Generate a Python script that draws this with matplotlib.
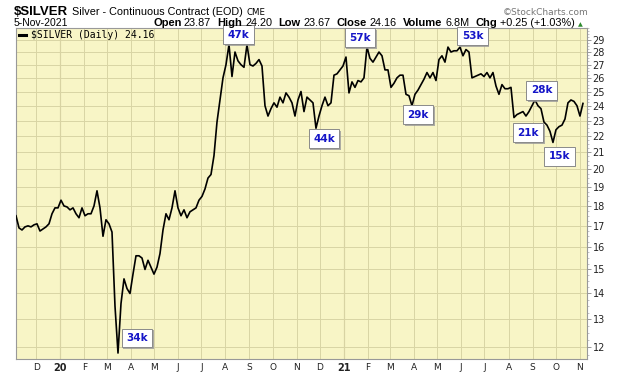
import pandas as pd
import matplotlib
matplotlib.use("Agg")
import matplotlib.pyplot as plt
from matplotlib import patheffects as pe
from matplotlib.ticker import FixedLocator, FixedFormatter, NullFormatter

# fechamentos aproximados de $SILVER, um ponto a cada ~3.9 dias (5-Nov-2019 a 5-Nov-2021)
precos_a = [17.5, 16.9, 16.8, 16.95, 17.0, 16.95, 17.05, 17.1, 16.75, 16.85,
            16.95, 17.1, 17.6, 17.9, 17.9, 18.3, 18.0, 17.95, 17.8, 17.9,
            17.6, 17.4, 17.9, 17.5, 17.6, 17.6, 18.0, 18.8, 17.9, 16.5,
            17.3, 17.1, 16.7, 13.5, 11.8, 13.6, 14.6, 14.2, 14.0, 14.8,
            15.6, 15.6, 15.5, 15.0, 15.4, 15.1, 14.8, 15.1, 15.7]
precos_b = [16.8, 17.6, 17.3, 17.9, 18.8, 17.9, 17.5, 17.8, 17.4, 17.7,
            17.8, 17.9, 18.3, 18.5, 18.9, 19.5, 19.7, 20.8, 22.9, 24.4,
            26.0, 27.0, 28.6, 26.1, 28.0, 27.3, 27.0, 26.8, 28.6, 27.0,
            26.9, 27.1, 27.4, 26.9, 24.0, 23.3, 23.8, 24.2, 23.9, 24.6,
            24.2, 24.9, 24.6, 24.2, 23.3, 24.4, 25.0, 23.6]
precos_c = [24.6, 24.4, 24.2, 22.5, 23.3, 24.0, 24.6, 24.0, 24.2, 26.2,
            26.3, 26.6, 26.9, 27.6, 24.9, 25.7, 25.3, 25.8, 25.7, 26.0,
            28.4, 27.5, 27.2, 27.6, 28.0, 27.7, 26.6, 26.6, 25.3, 25.6,
            26.0, 26.2, 26.2, 24.8, 24.7, 24.0, 24.8, 25.1, 25.5, 25.9,
            26.4, 26.0, 26.4, 25.8, 27.4, 27.7, 27.2, 28.4]
precos_d = [28.0, 28.1, 28.1, 28.4, 27.7, 28.2, 28.0, 26.0, 26.1, 26.2,
            26.3, 26.1, 26.4, 26.0, 26.4, 25.4, 24.8, 25.5, 25.2, 25.2,
            25.3, 23.2, 23.4, 23.5, 23.6, 23.3, 23.6, 24.0, 24.4, 24.0,
            23.8, 22.9, 22.7, 22.3, 21.6, 22.4, 22.6, 22.7, 23.1, 24.2,
            24.4, 24.3, 24.0, 23.3, 24.16]
precos = precos_a + precos_b + precos_c + precos_d
datas = pd.date_range("2019-11-05", "2021-11-05", periods=len(precos))

niveis = list(range(12, 30))
meses = pd.date_range("2019-12-01", "2021-11-01", freq="MS")
rotulos_meses = ["D", "20", "F", "M", "A", "M", "J", "J", "A", "S", "O", "N",
                 "D", "21", "F", "M", "A", "M", "J", "J", "A", "S", "O", "N"]

# caixas de volume nos pivôs (índice do ponto, texto)
piv_idx = [34, 71, 100, 117, 132, 148, 166, 173, 179]
piv_txt = ["34k", "47k", "44k", "57k", "29k", "53k", "21k", "28k", "15k"]
desloc = [(19, -15), (9.5, -10), (8, 10.5), (-7, -9.5), (6, 9),
          (12.5, -11), (14, 15), (6.5, -9.5), (6.5, 14)]  # em pixels

# linha de cotação do cabeçalho
cot_rotulos = ["Open", "High", "Low", "Close", "Volume", "Chg"]
cot_valores = ["23.87", "24.20", "23.67", "24.16", "6.8M", "+0.25 (+1.03%)"]

W, H = 620, 376
fig = plt.figure(figsize=(W / 100, H / 100), dpi=100)
fig.patch.set_facecolor("white")
ax = fig.add_axes([16 / W, (H - 359) / H, 571 / W, 331 / H])
ax.set_facecolor("#F8F5C6")

ax.plot(datas, precos, color="black", lw=1.2, label=r"\$SILVER (Daily) 24.16", zorder=3)
ax.set_yscale("log")
ax.set_ylim(11.6, 30.0)
ax.set_xlim(datas[0], datas[-1] + pd.Timedelta(days=5.2))

ax.yaxis.tick_right()
ax.yaxis.set_major_locator(FixedLocator(niveis))
ax.yaxis.set_major_formatter(FixedFormatter([str(v) for v in niveis]))
ax.yaxis.set_minor_locator(FixedLocator([v / 4 for v in range(46, 121)]))
ax.yaxis.set_minor_formatter(NullFormatter())
ax.tick_params(axis="y", which="major", length=3, width=0.6, color="#888888",
               pad=1, labelsize=7, labelcolor="#222222")
ax.tick_params(axis="y", which="minor", length=1.5, width=0.5, color="#aaaaaa")

ax.set_xticks(meses)
ax.set_xticklabels(rotulos_meses)
ax.tick_params(axis="x", length=0, pad=3, labelsize=6.5, labelcolor="#222222")
for lbl in ax.get_xticklabels():
    if lbl.get_text().isdigit():
        lbl.set_fontweight("bold")
        lbl.set_fontsize(7)

ax.grid(True, which="major", color="#D9D4A4", lw=0.7, zorder=0)
for m in meses:
    if m.month == 1:
        ax.axvline(m, color="#BDB88E", lw=0.8, zorder=1)
for s in ax.spines.values():
    s.set_color("#999999")
    s.set_linewidth(0.8)

leg = ax.legend(loc="upper left", bbox_to_anchor=(3 / 571, 1 - 2 / 331),
                frameon=False, handlelength=0.7, handletextpad=0.5,
                borderpad=0, borderaxespad=0,
                prop={"family": "DejaVu Sans Mono", "size": 7})
for h in leg.get_lines():
    h.set_linewidth(2.2)

for i, txt, (dx, dy) in zip(piv_idx, piv_txt, desloc):
    a = ax.annotate(txt, xy=(datas[i], precos[i]), xytext=(dx * 0.72, -dy * 0.72),
                    textcoords="offset points", ha="center", va="center",
                    fontsize=7.5, fontweight="bold", color="#1515C8",
                    annotation_clip=False, zorder=6,
                    bbox=dict(boxstyle="square,pad=0.42", fc="white", ec="#8a8a8a", lw=0.7))
    a.get_bbox_patch().set_path_effects([
        pe.SimplePatchShadow(offset=(1.2, -1.2), shadow_rgbFace="#999999", alpha=0.8),
        pe.Normal()])

# cabeçalho
fonte = "Liberation Sans"
rend = fig.canvas.get_renderer()


def px(x, y, s, **kw):
    return fig.text(x / W, 1 - y / H, s, va="baseline", **kw)


def segue(prev, s, gap, y, **kw):
    # texto logo à direita do anterior, mesma linha de base
    x1 = prev.get_window_extent(rend).x1
    return px(x1 + gap, y, s, **kw)


y1, y2 = 15, 26.5
t = px(14, y1, r"\$SILVER", family=fonte, fontsize=9.5, fontweight="bold")
t = segue(t, "Silver - Continuous Contract (EOD)", 3.5, y1, family=fonte, fontsize=7.8)
segue(t, "CME", 4, y1, family="DejaVu Sans", fontsize=6.2)
px(588, y1, "©StockCharts.com", family="DejaVu Sans", fontsize=6.5,
   color="#777777", ha="right")
px(14, y2, "5-Nov-2021", family=fonte, fontsize=7.5)

t = px(153, y2, cot_rotulos[0], family=fonte, fontsize=8, fontweight="bold")
for k, (r, v) in enumerate(zip(cot_rotulos, cot_valores)):
    if k > 0:
        t = segue(t, r, 6.5, y2, family=fonte, fontsize=8, fontweight="bold")
    t = segue(t, v, 2.5, y2, family=fonte, fontsize=7.8)
segue(t, "▲", 3, y2 - 0.5, family="DejaVu Sans", fontsize=4.5, color="#2E8B2E")

fig.savefig("out.png", dpi=100, facecolor="white")
